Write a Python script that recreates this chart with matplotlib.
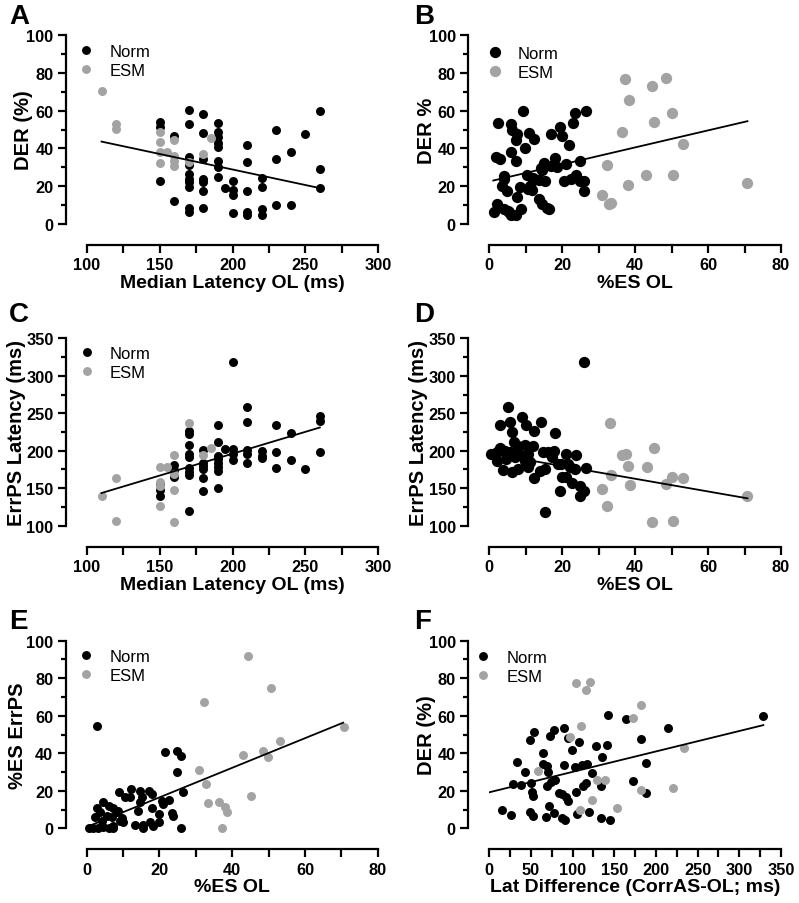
import matplotlib
matplotlib.use("Agg")
import matplotlib.pyplot as plt
from matplotlib.ticker import MultipleLocator
from matplotlib.lines import Line2D

plt.rcParams['font.family'] = ['Liberation Sans', 'DejaVu Sans']

BLACK = '#000000'
GRAY = '#a3a3a3'

# ---------------- Panel A: DER (%) vs Median Latency OL (ms) ----------------
A_norm_x = [150]*3 + [160]*2 + [170]*10 + [180]*7 + [190]*8 + [195] + [200]*4 + [210]*5 + [220]*4 + [230]*3 + [240]*2 + [250] + [260]*3
A_norm_y = [54, 51.5, 23,
            46.5, 12.3,
            60.5, 53, 35.3, 31, 26.5, 24, 22, 19.4, 8.3, 6.5,
            58.3, 48, 34.5, 24, 22, 17.7, 8.3,
            53.5, 48.5, 46, 43, 40.5, 33.5, 30, 25,
            19.3,
            23, 18, 15.5, 6,
            41.8, 32.6, 17.2, 6.3, 4.8,
            24.2, 19.6, 7.8, 5,
            49.6, 34.4, 10,
            38.3, 10,
            47.4,
            60, 29.1, 19]
A_esm_x = [110, 120, 120, 150, 150, 150, 150, 155, 160, 160, 160, 160, 170, 180, 185]
A_esm_y = [70.5, 52.9, 50.3, 48.5, 43.2, 38.3, 32.3, 37.9, 44.6, 36.1, 33.5, 30.9, 33, 37, 45.3]
A_fit_x = [110, 260]
A_fit_y = [43.6, 19.0]

# ---------------- Panel B: DER % vs %ES OL ----------------
B_norm_x = [9.2, 26.5, 23.5, 23, 2.3, 6, 6.3, 7.6, 10.8, 19.3, 20, 16.8, 12.3, 7.2, 9.7, 21.8, 6, 1.8, 3,
            7.4, 24.8, 18, 15, 14.3, 16.8, 21, 18.5, 15.3, 20.4, 22.3, 23.8, 26, 26, 24.8, 10.3, 12.1,
            11.2, 8.5, 11.7, 3.9, 3.5, 4.8, 7.6, 13.5, 14.4, 15.8, 16.3, 2.1, 1.2, 3.9, 5.5, 6, 7.4,
            8.8, 5, 10.5, 4, 13.5, 14.5, 12]
B_norm_y = [60, 60, 58.5, 53.5, 53.5, 53, 50, 47.5, 48, 51.5, 46.5, 47.5, 45, 44.5, 40, 42, 38.3, 35.5, 34.5,
            33.5, 33.5, 35, 32.5, 29.5, 30.5, 31.5, 30, 23, 22.5, 24, 26, 23, 17.5, 22.5, 26, 23.5,
            20, 19.5, 18, 25.5, 20, 17.5, 14.5, 13, 10.5, 8.5, 8, 10.5, 6.5, 8, 6.5, 5, 4.5,
            8, 7, 18.5, 24, 23.5, 28.5, 24.5]
B_esm_x = [37.2, 44.5, 48.4, 38.4, 36.5, 45.2, 50, 53, 32.4, 38.1, 43.1, 50.3, 30.8, 32.8, 33.5, 70.6]
B_esm_y = [76.7, 73.2, 77.3, 65.6, 48.6, 54.2, 58.6, 42.4, 31, 20.8, 26, 26, 15.5, 10.4, 11.3, 21.6]
B_fit_x = [1.1, 70.8]
B_fit_y = [23.0, 54.4]

# ---------------- Panel C: ErrPS Latency (ms) vs Median Latency OL (ms) ----------------
C_norm_x = [150]*3 + [160]*3 + [170]*9 + [180]*6 + [190]*8 + [195] + [200]*4 + [210]*5 + [220]*3 + [230]*3 + [240]*2 + [250] + [260]*3
C_norm_y = [155, 148, 140,
            181, 174, 165,
            227, 222, 207, 195, 191, 177, 171, 167, 119,
            201, 184, 180, 175, 164, 146,
            234, 212, 193, 189, 184, 178, 173, 150,
            202,
            318, 202, 196, 188,
            258, 238, 201, 195, 183,
            199, 193.5, 190,
            235, 198, 177,
            224, 187,
            175,
            246, 240, 198]
C_esm_x = [110, 120, 120, 150, 150, 150, 150, 155, 160, 160, 160, 160, 170, 180, 185]
C_esm_y = [139, 163.6, 105.8, 178.7, 157.8, 153.4, 126.7, 178.7, 194.7, 169, 148, 104.4, 236.6, 194.7, 203.6]
C_fit_x = [110, 260]
C_fit_y = [143.6, 231.0]

# ---------------- Panel D: ErrPS Latency (ms) vs %ES OL ----------------
D_norm_x = [26.0, 5.0, 9.1, 14.3, 2.9, 5.7, 10.0, 12.3, 6.1, 18.0, 6.8, 9.7, 12.0, 2.9, 0.6, 2.0, 2.0, 4.3,
            5.7, 7.5, 8.4, 10.7, 7.0, 9.8, 11.2, 3.8, 6.1, 8.0, 10.7, 12.3, 13.9, 15.4, 14.8, 16.2, 17.7,
            17.1, 18.8, 20.9, 23.7, 19.8, 21.7, 22.1, 23.5, 26.5, 20.0, 20.9, 22.8, 19.4, 24.9, 26.0, 24.9,
            15.3, 4.6, 8.0]
D_norm_y = [318, 258, 245.5, 239, 234, 238, 234, 227, 224.5, 223, 212, 207.6, 206.8, 203.6, 195.6, 197.9, 186.7, 200,
            198, 200, 194.3, 195.6, 191.2, 186.7, 184.5, 174.3, 171.2, 175.6, 177.8, 163.2, 173.4, 175.6, 198.7, 197.9, 200,
            191.2, 182.3, 195.6, 194.7, 182.3, 182.3, 177.8, 175.6, 177, 164.5, 165.4, 157, 146.7, 152.5, 146.7, 140,
            118.7, 189, 206.8]
D_esm_x = [33.1, 36.5, 37.4, 45.2, 38.1, 43.3, 33.5, 30.8, 38.6, 32.4, 48.4, 50.0, 53.0, 44.7, 50.5, 70.6]
D_esm_y = [236.6, 194.7, 195.6, 203.6, 180, 178.7, 168, 148.9, 154.3, 126.7, 155.6, 164.5, 163.2, 104.4, 105.8, 139]
D_fit_x = [1.1, 70.8]
D_fit_y = [195.6, 136.5]

# ---------------- Panel E: %ES ErrPS vs %ES OL ----------------
E_norm_x = [2.9, 21.5, 24.7, 25.8, 24.7, 26.6, 25.8, 9.0, 12.2, 10.5, 11.9, 14.7, 17.0, 17.9, 15.1, 14.7,
            20.6, 22.7, 21.1, 17.9, 14.0, 19.9, 23.4, 23.6, 13.3, 15.6, 15.6, 17.4, 18.3, 19.9,
            4.6, 6.0, 7.3, 8.7, 2.7, 3.7, 2.3, 5.5, 6.9, 8.2, 9.6, 10.1, 7.3,
            0.5, 1.8, 3.2, 4.6, 6.0, 7.3, 4.1, 9.2]
E_norm_y = [54.7, 40.8, 41.4, 38.7, 29.8, 19.5, 0, 19.2, 20.9, 16.5, 16.5, 20, 20, 18.3, 16.5, 13.8,
            14.7, 15.3, 13, 10.6, 9.4, 7.6, 8.2, 6.4, 1.8, 1.8, 0, 3.2, 1.4, 3.5,
            13.8, 12, 10.6, 9.4, 10.6, 8.5, 5.8, 6.7, 5.8, 8.5, 5.3, 3.2, 1.4,
            0, 0, 0, 0.5, 0, 0, 4, 4]
E_esm_x = [44.4, 50.6, 32.3, 70.7, 53.2, 43.1, 48.4, 49.9, 31.0, 32.8, 33.4, 36.5, 38.0, 38.5, 45.2, 37.1]
E_esm_y = [92, 74.8, 67.1, 53.8, 46.7, 39.1, 41, 38.2, 31.3, 23.6, 13.5, 14.2, 11.2, 8.5, 17, 0]
E_fit_x = [1.0, 70.5]
E_fit_y = [1.5, 56.3]

# ---------------- Panel F: DER (%) vs Lat Difference ----------------
F_norm_x = [328.8, 142.8, 164, 214.8, 89.6, 78, 53.6, 72.8, 48.8, 181.6, 107.6, 94.8, 99.6, 128, 140.8, 64.8,
            134.8, 32.8, 188, 89.6, 64.8, 68.8, 110.8, 116.8, 102.8, 42.8, 70.8, 123.6, 28.8, 38, 50,
            74, 78.8, 68.8, 172.8, 115.6, 112, 133.6, 50.8, 52, 83.6, 87.6, 91.6, 94.8, 103.6, 188,
            71.6, 14.8, 25.6, 48.8, 52.8, 67.6, 77.6, 86.8, 90.8, 104.8, 120, 134, 144.8]
F_norm_y = [60, 60.4, 58.3, 53.3, 53.3, 52.4, 51.2, 49.4, 47.2, 47.6, 46.2, 48, 41.9, 44, 44.6, 40,
            38.2, 35.5, 34.8, 33.7, 34.3, 33, 33.7, 34.3, 32.5, 30.2, 30.2, 29.3, 23.6, 23.3, 24.2,
            24.5, 25.8, 22.7, 25.4, 24, 22.7, 22.4, 19.2, 17.4, 18.8, 18.3, 16.5, 14.4, 19.2, 18.6,
            12.1, 9.8, 7.3, 8.5, 6.4, 6.2, 8, 5.3, 4.6, 7.6, 8.5, 5.3, 4.6]
F_esm_x = [104.0, 120.8, 115.6, 181.6, 172.8, 110, 96.8, 233.6, 58.8, 128.8, 138.8, 220, 181.6, 122.8, 108.8, 152.8]
F_esm_y = [77.4, 78.1, 73.7, 65.9, 58.6, 54.7, 48.5, 42.6, 30.7, 25.7, 25.7, 21.5, 20.4, 15, 9.8, 10.8]
F_fit_x = [0, 328.8]
F_fit_y = [19.2, 55.0]

W, H = 799, 904
fig = plt.figure(figsize=(W / 100, H / 100), dpi=100)


def make_ax(l, r, t, b):
    return fig.add_axes([l / W, 1 - b / H, (r - l) / W, (b - t) / H])


def style(ax, xlim, xmaj, xmin, ylim, ymaj, ymin, xlabel, ylabel, ylpad):
    ax.set_xlim(*xlim)
    ax.set_ylim(*ylim)
    ax.xaxis.set_major_locator(MultipleLocator(xmaj))
    ax.xaxis.set_minor_locator(MultipleLocator(xmin))
    ax.yaxis.set_major_locator(MultipleLocator(ymaj))
    ax.yaxis.set_minor_locator(MultipleLocator(ymin))
    for s in ['top', 'right']:
        ax.spines[s].set_visible(False)
    off = 21 * 72 / 100
    ax.spines['left'].set_position(('outward', off))
    ax.spines['bottom'].set_position(('outward', off))
    for s in ['left', 'bottom']:
        ax.spines[s].set_linewidth(1.6)
    ax.tick_params(axis='both', which='major', direction='out', width=1.6, length=6,
                   labelsize=11.8, pad=3)
    ax.tick_params(axis='y', which='minor', direction='out', width=1.6, length=3.5)
    ax.tick_params(axis='x', which='minor', direction='out', width=1.6, length=6)
    for lab in ax.get_xticklabels() + ax.get_yticklabels():
        lab.set_fontweight('bold')
    ax.set_xlabel(xlabel, fontsize=14, fontweight='bold', labelpad=1)
    ax.set_ylabel(ylabel, fontsize=14.5, fontweight='bold', labelpad=ylpad)
    ax.patch.set_visible(False)


def plot_panel(ax, nx, ny, ex, ey, fx, fy, ms):
    ax.scatter(nx, ny, s=ms, c=BLACK, linewidths=0, clip_on=False, zorder=3)
    ax.scatter(ex, ey, s=ms, c=GRAY, linewidths=0, clip_on=False, zorder=3)
    ax.plot(fx, fy, color='black', lw=1.3, zorder=4)


FS_LEG = 12
EM = FS_LEG * 100 / 72.0


def add_legend(ax, mx, my, tx, ms_pt):
    # mx, my: marker centre of first legend row (pixels); tx: text left (pixels)
    handles = [Line2D([], [], ls='none', marker='o', ms=ms_pt, mfc=BLACK, mec='none'),
               Line2D([], [], ls='none', marker='o', ms=ms_pt, mfc=GRAY, mec='none')]
    leg = ax.legend(handles, ['Norm', 'ESM'], frameon=False, loc='upper left',
                    bbox_to_anchor=((mx - 0.5 * EM) / W, 1 - (my - 6) / H), bbox_transform=fig.transFigure,
                    borderpad=0, borderaxespad=0, handlelength=1.0,
                    handletextpad=(tx - mx - 0.5 * EM) / EM, labelspacing=0.25,
                    prop={'size': FS_LEG})
    return leg


# Panel A
axA = make_ax(87, 378, 36, 225)
plot_panel(axA, A_norm_x, A_norm_y, A_esm_x, A_esm_y, A_fit_x, A_fit_y, 42)
style(axA, (100, 300), 50, 25, (0, 100), 20, 10, 'Median Latency OL (ms)', 'DER (%)', -5)
add_legend(axA, 86, 51, 110, 6.4)

# Panel B
axB = make_ax(489.3, 781, 36, 225)
plot_panel(axB, B_norm_x, B_norm_y, B_esm_x, B_esm_y, B_fit_x, B_fit_y, 66)
style(axB, (0, 80), 20, 10, (0, 100), 20, 10, '%ES OL', 'DER %', -5)
add_legend(axB, 495, 53, 518, 8.1)

# Panel C
axC = make_ax(87, 378, 339.3, 526.7)
plot_panel(axC, C_norm_x, C_norm_y, C_esm_x, C_esm_y, C_fit_x, C_fit_y, 42)
style(axC, (100, 300), 50, 25, (100, 350), 50, 25, 'Median Latency OL (ms)', 'ErrPS Latency (ms)', 0)
add_legend(axC, 86.7, 353, 110, 6.4)

# Panel D
axD = make_ax(489.3, 781, 339.3, 526.7)
plot_panel(axD, D_norm_x, D_norm_y, D_esm_x, D_esm_y, D_fit_x, D_fit_y, 66)
style(axD, (0, 80), 20, 10, (100, 350), 50, 25, '%ES OL', 'ErrPS Latency (ms)', 0)

# Panel E
axE = make_ax(86.7, 377.7, 641.7, 829.3)
plot_panel(axE, E_norm_x, E_norm_y, E_esm_x, E_esm_y, E_fit_x, E_fit_y, 42)
style(axE, (0, 80), 20, 10, (0, 100), 20, 10, '%ES OL', '%ES ErrPS', -1)
add_legend(axE, 86, 656, 110, 6.4)

# Panel F
axF = make_ax(489.3, 781, 641.7, 829.3)
plot_panel(axF, F_norm_x, F_norm_y, F_esm_x, F_esm_y, F_fit_x, F_fit_y, 42)
style(axF, (0, 350), 50, 25, (0, 100), 20, 10, 'Lat Difference (CorrAS-OL; ms)', 'DER (%)', -5)
add_legend(axF, 483.3, 657, 507, 6.4)

# Panel letters
for letter, (px, py) in zip('ABCDEF', [(9, 4), (414, 4), (9, 302), (414, 302), (9, 609), (414, 609)]):
    fig.text(px / W, 1 - py / H, letter, fontsize=20, fontweight='bold', ha='left', va='top')

fig.savefig('out.png', dpi=100)
